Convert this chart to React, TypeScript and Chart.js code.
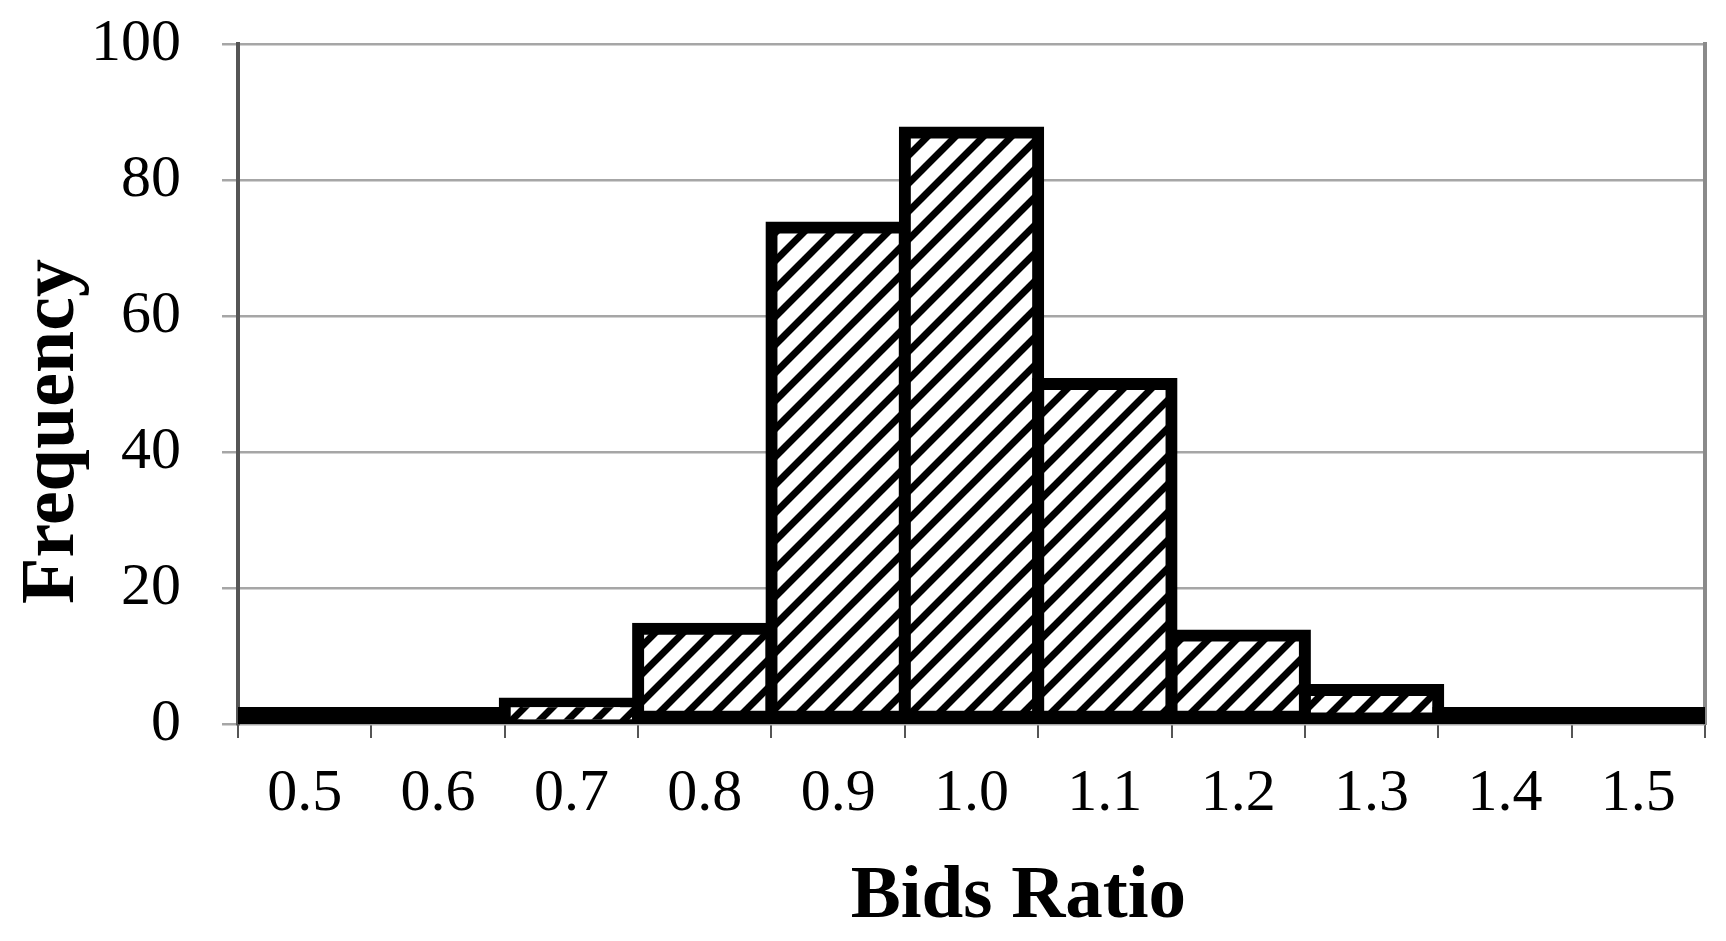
import { useEffect, useRef } from 'react';
import { Chart, registerables } from 'chart.js';

Chart.register(...registerables);

// bins of the bids ratio and how many fall in each
const bidsRatio = ['0.5', '0.6', '0.7', '0.8', '0.9', '1.0', '1.1', '1.2', '1.3', '1.4', '1.5'];
const frequency = [1, 1, 3, 14, 73, 87, 50, 13, 5, 1, 1];

const Y_MAX = 100;
const Y_STEP = 20;

const Y_TICK_PAD = 41;

const serif = '"Liberation Serif", "Times New Roman", serif';

// diagonal hatch like the excel pattern fill
function makeHatch(): CanvasPattern | string {
  const s = 28;
  const c = document.createElement('canvas');
  c.width = s;
  c.height = s;
  const g = c.getContext('2d');
  if (!g) return '#fff';
  g.fillStyle = '#fff';
  g.fillRect(0, 0, s, s);
  g.strokeStyle = '#000';
  g.lineWidth = 7;
  g.beginPath();
  g.moveTo(-s / 2, s / 2);
  g.lineTo(s / 2, -s / 2);
  g.moveTo(0, s);
  g.lineTo(s, 0);
  g.moveTo(s / 2, s * 1.5);
  g.lineTo(s * 1.5, s / 2);
  g.stroke();
  return g.createPattern(c, 'repeat') || '#fff';
}

export default function App() {
  const canvasRef = useRef<HTMLCanvasElement>(null);
  const chartRef = useRef<Chart | null>(null);

  useEffect(() => {
    document.body.style.margin = '0';
    if (!canvasRef.current) return;
    if (chartRef.current) chartRef.current.destroy();

    const hatch = makeHatch();

    chartRef.current = new Chart(canvasRef.current, {
      type: 'bar',
      data: {
        labels: bidsRatio,
        datasets: [
          {
            data: frequency,
            backgroundColor: (c: any) => (c.raw < 2 ? '#000' : hatch),
            borderColor: '#000',
            // inflateAmount moves the outline so it sits centred on the bar edge
            borderWidth: { top: 12, right: 12, bottom: 18, left: 12 },
            borderSkipped: false,
            inflateAmount: 6,
            minBarLength: 11,
            barPercentage: 1,
            categoryPercentage: 1,
            clip: { left: 0, top: false, right: 0, bottom: 0 } as any,
          },
        ],
      },
      options: {
        responsive: true,
        maintainAspectRatio: false,
        animation: false,
        layout: { padding: { top: 44, right: 21, bottom: 6, left: 0 } },
        plugins: {
          legend: { display: false },
          tooltip: { enabled: false },
        },
        scales: {
          x: {
            offset: true,
            grid: {
              offset: true,
              drawOnChartArea: false,
              tickLength: 14,
              color: '#555',
              lineWidth: 2,
            },
            border: { display: false },
            ticks: {
              color: '#000',
              padding: 20,
              font: { family: serif, size: 60 },
            },
            title: {
              display: true,
              text: '     Bids Ratio',
              color: '#000',
              padding: { top: 10, bottom: 0 },
              font: { family: serif, size: 75, weight: 'bold', lineHeight: 1 },
            },
          },
          y: {
            min: 0,
            max: Y_MAX,
            grid: {
              color: '#a6a6a6',
              lineWidth: 2.5,
              tickLength: 16,
            },
            border: { color: '#555', width: 4 },
            ticks: {
              stepSize: Y_STEP,
              color: '#000',
              padding: Y_TICK_PAD,
              font: { family: serif, size: 60 },
            },
            title: {
              display: true,
              text: 'Frequency     ',
              color: '#000',
              padding: { top: 15, bottom: 0 },
              font: { family: serif, size: 76, weight: 'bold', lineHeight: 1 },
            },
            // chart.js counts the tick padding on both sides of the labels
            afterFit: (scale: any) => {
              scale.width -= Y_TICK_PAD;
              scale.paddingTop = 0;
              scale.paddingBottom = 0;
            },
          },
          // right edge of the plot area
          y2: {
            position: 'right',
            min: 0,
            max: Y_MAX,
            grid: { drawOnChartArea: false, drawTicks: false },
            border: { color: '#8a8a8a', width: 4 },
            ticks: { display: false },
          },
        },
      },
    });

    return () => {
      if (chartRef.current) {
        chartRef.current.destroy();
        chartRef.current = null;
      }
    };
  }, []);

  return (
    <div style={{ width: 1726, height: 941, position: 'relative', background: '#fff' }}>
      <canvas ref={canvasRef} />
    </div>
  );
}
